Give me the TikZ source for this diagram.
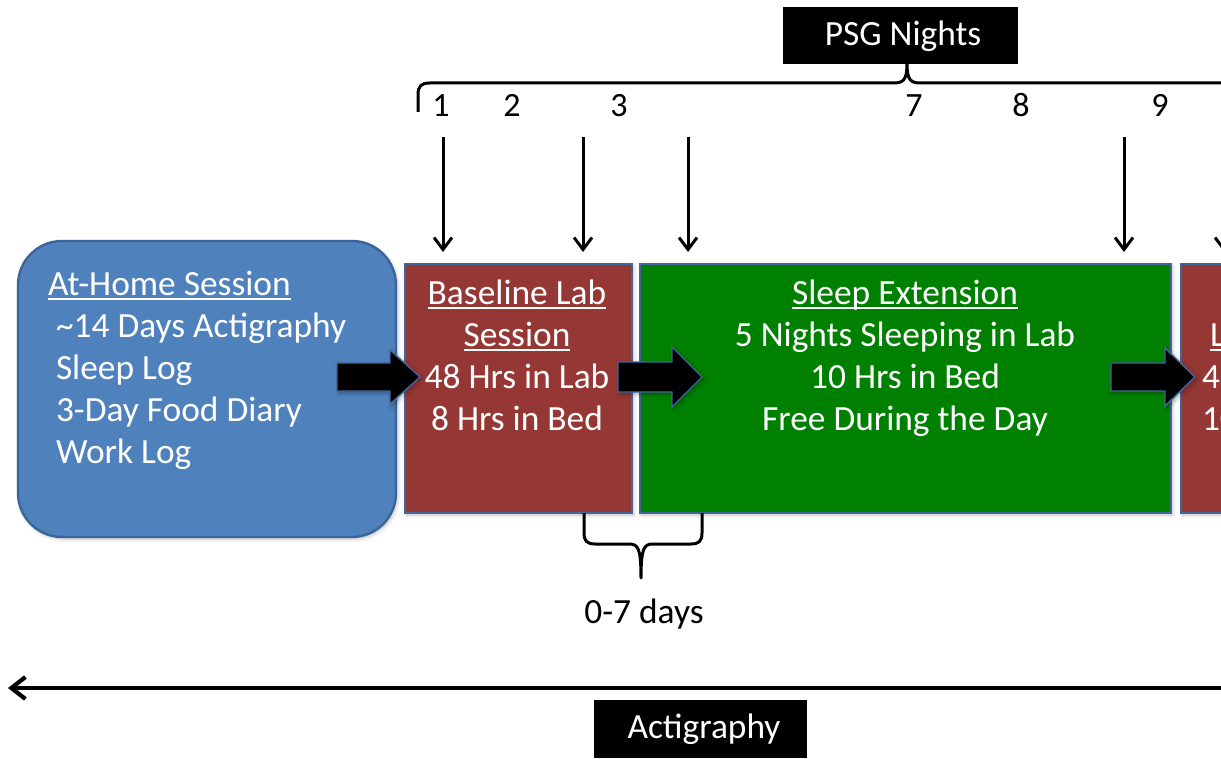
\documentclass[tikz,border=0pt]{standalone}
\usepackage{fontspec}
\setmainfont{Carlito}
\usetikzlibrary{arrows.meta,shadows.blur}
\definecolor{homeblue}{HTML}{4F81BD}
\definecolor{homeedge}{HTML}{3A659A}
\definecolor{labred}{HTML}{953735}
\definecolor{extgreen}{HTML}{008000}
\definecolor{boxedge}{HTML}{41679A}
\newcommand\myul[1]{\setbox0\hbox{#1}\rlap{\rule[-2.6pt]{\wd0}{0.9pt}}\box0}
\begin{document}
\begin{tikzpicture}[x=0.5pt,y=-0.5pt,
  bigfont/.style={font=\fontsize{17.7}{21}\selectfont},
  wtxt/.style={bigfont,text=white,inner sep=0pt,outer sep=0pt},
  ktxt/.style={bigfont,text=black,inner sep=0pt,outer sep=0pt},
  numtxt/.style={font=\fontsize{17}{20}\selectfont,inner sep=0pt,anchor=base},
  panel/.style={rectangle,inner sep=0pt,outer sep=0pt,line width=1.2pt,
    blur shadow={shadow blur steps=6,shadow xshift=0.8pt,shadow yshift=-1pt,shadow opacity=25}},
  tagbox/.style={rectangle,fill=black,draw=black,inner sep=0pt,outer sep=0pt},
  blockarrow/.style={fill=black,draw=boxedge,line width=0.7pt,line join=miter,
    blur shadow={shadow blur steps=5,shadow xshift=1pt,shadow yshift=-1pt,shadow opacity=30}},
  tick/.style={line width=1.5pt,-{Straight Barb[length=6pt,width=9pt]}},
  bracepath/.style={line width=1.5pt,line join=round},
  actarrow/.style={line width=2.1pt,-{Straight Barb[length=7pt,width=11pt]}}
]
\useasboundingbox (0,0) rectangle (1221,759);
\clip (0,0) rectangle (1221,759);

% ---- panels ----
\node[panel,draw=homeedge,fill=homeblue,rounded corners=22pt,minimum width=189pt,minimum height=148pt] (home) at (207,389) {};
\node[panel,draw=boxedge,fill=labred,minimum width=113.5pt,minimum height=124.5pt] (base) at (518.5,388.5) {};
\node[panel,draw=boxedge,fill=extgreen,minimum width=265.5pt,minimum height=124.5pt] (ext) at (905.5,388.5) {};
\node[panel,draw=boxedge,fill=labred,minimum width=114.5pt,minimum height=124.5pt] (post) at (1295.5,388.5) {};

% ---- panel texts (base anchor = baseline of last line) ----
\node[wtxt,anchor=base west,align=left] (hometxt) at (48,463)
  {\myul{At-Home Session}\\
   \hspace*{4pt}\textasciitilde14 Days Actigraphy\\
   \hspace*{4pt}Sleep Log\\
   \hspace*{4pt}3-Day Food Diary\\
   \hspace*{4pt}Work Log};
\node[wtxt,anchor=base,align=center] (basetxt) at (517,430)
  {\myul{Baseline Lab}\\ \myul{Session}\\ 48 Hrs in Lab\\ 8 Hrs in Bed};
\node[wtxt,anchor=base,align=center] (exttxt) at (905,430)
  {\myul{Sleep Extension}\\ 5 Nights Sleeping in Lab\\ 10 Hrs in Bed\\ Free During the Day};
\node[wtxt,anchor=base west] (posta) at (1210,346) {\myul{L}};
\node[wtxt,anchor=base west] (postb) at (1202,388) {48};
\node[wtxt,anchor=base west] (postc) at (1202,430) {10};

% ---- block arrows ----
\draw[blockarrow] (337,363) -- (390,363) -- (390,350) -- (420,377) -- (390,404) -- (390,391) -- (337,391) -- cycle;
\draw[blockarrow] (618,362) -- (672,362) -- (672,347) -- (702,377) -- (672,407) -- (672,392) -- (618,392) -- cycle;
\draw[blockarrow] (1111,363) -- (1165,363) -- (1165,348) -- (1195,377) -- (1165,406) -- (1165,391) -- (1111,391) -- cycle;

% ---- PSG nights ----
\node[tagbox,minimum width=117pt,minimum height=28pt] (psg) at (900,35) {};
\node[wtxt,anchor=base] (psgtxt) at (903,46) {PSG Nights};

\draw[bracepath] (418,112) -- (418,95) .. controls (418,86) and (421,83) .. (430,83)
  -- (893,83) .. controls (903,83) and (907,81) .. (907,63)
  .. controls (907,81) and (911,83) .. (921,83) -- (1240,83);

\node[numtxt] (n1) at (441,117) {1};
\node[numtxt] (n2) at (512,117) {2};
\node[numtxt] (n3) at (619,117) {3};
\node[numtxt] (n7) at (914,117) {7};
\node[numtxt] (n8) at (1021,117) {8};
\node[numtxt] (n9) at (1160,117) {9};

\foreach \i/\x in {a/443,b/583,c/688,d/1124,e/1224}{
  \coordinate (t\i) at (\x,137);
  \coordinate (h\i) at (\x,252);
  \draw[tick] (t\i) -- (h\i);
}

% ---- 0-7 days brace ----
\draw[bracepath] (584,513) -- (584,533) .. controls (584,541) and (587,544) .. (595,544)
  -- (629,544) .. controls (638,544) and (641,548) .. (641,578)
  .. controls (641,548) and (644,544) .. (653,544)
  -- (691,544) .. controls (699,544) and (702,541) .. (702,533) -- (702,513);
\node[ktxt,anchor=base] (gap) at (644,623) {0-7 days};

% ---- actigraphy ----
\coordinate (actR) at (1240,688);
\coordinate (actL) at (8,688);
\draw[actarrow] (actR) -- (actL);
\node[tagbox,minimum width=106pt,minimum height=28.5pt] (acti) at (700,728.5) {};
\node[wtxt,anchor=base] (actitxt) at (704,738) {Actigraphy};
\end{tikzpicture}
\end{document}
